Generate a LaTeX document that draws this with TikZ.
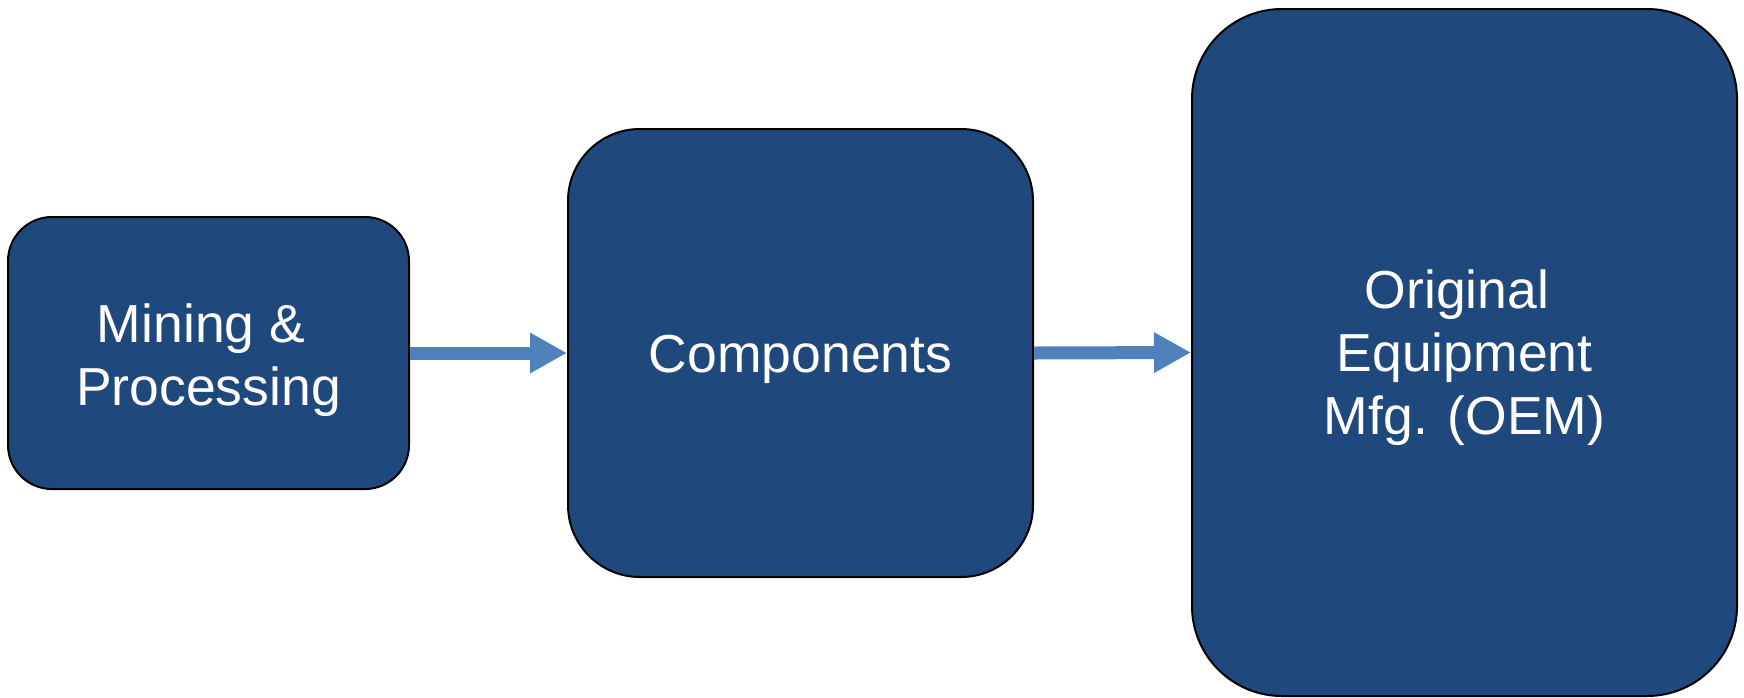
\documentclass[tikz,border=0pt]{standalone}
\usepackage{fontspec}
\setmainfont{Liberation Sans}
\usetikzlibrary{arrows.meta}
\definecolor{boxblue}{RGB}{31,73,125}
\definecolor{arrowblue}{RGB}{79,129,189}
\tikzset{
  stagebox/.style={draw=black, line width=2pt, fill=boxblue, inner sep=0pt},
  stagetext/.style={text=white, inner sep=0pt, align=center,
    font=\fontsize{53.5}{63}\selectfont},
  flowarrow/.style={draw=arrowblue, line width=13pt, line cap=butt,
    -{Triangle[length=37pt,width=38pt]}}
}
\begin{document}
\begin{tikzpicture}[x=1pt,y=-1pt]
\useasboundingbox (0,0) rectangle (1744,697);
\node[stagebox, minimum width=401pt, minimum height=272pt, rounded corners=44pt]
  (mining) at (208.5,353) {};
\node[stagebox, minimum width=465pt, minimum height=448pt, rounded corners=72pt]
  (comp) at (800.5,353) {};
\node[stagebox, minimum width=545pt, minimum height=687pt, rounded corners=90pt]
  (oem) at (1464.5,352.5) {};
\node[stagetext] (miningtext) at ([yshift=-7pt]mining.center) {Mining \&\hspace*{0.278em}\\Processing};
\node[stagetext] (comptext) at ([yshift=-6pt]comp.center) {Components};
\node[stagetext] (oemtext) at ([yshift=-5pt]oem.center) {Original\hspace*{0.278em}\\Equipment\hspace*{0.278em}\\Mfg. (OEM)};
\draw[flowarrow] (mining.east) -- (comp.west);
\draw[flowarrow] (comp.east) -- (oem.west);
\end{tikzpicture}
\end{document}
